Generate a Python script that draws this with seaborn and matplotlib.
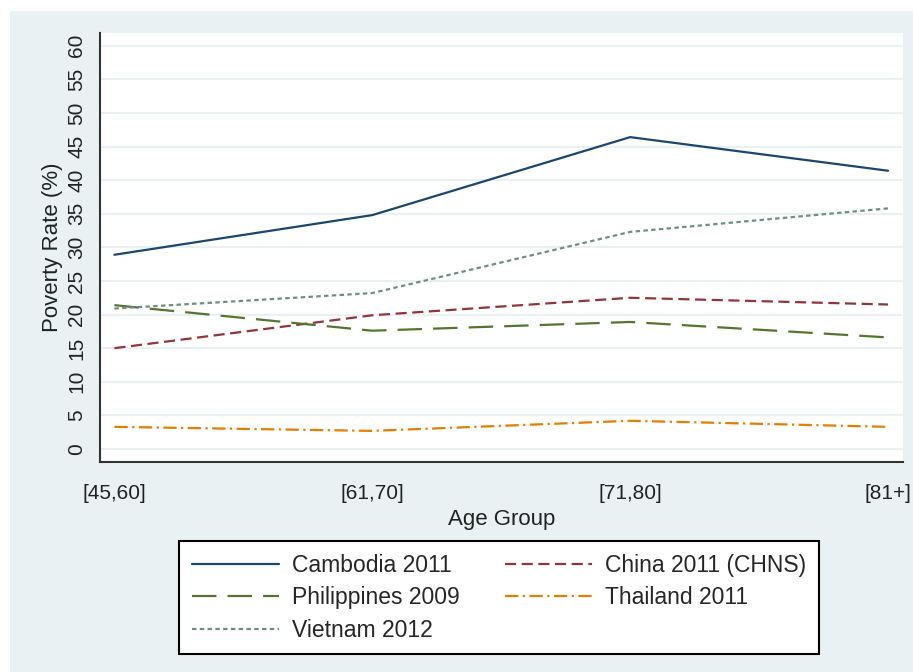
import pandas as pd
import numpy as np
import matplotlib.pyplot as plt
import matplotlib as mpl
import seaborn as sns

# values
age_groups = ['[45,60]', '[61,70]', '[71,80]', '[81+]']
cambodia = [28.9, 34.8, 46.4, 41.4]
china = [15.0, 19.9, 22.5, 21.5]
philippines = [21.4, 17.6, 18.9, 16.6]
thailand = [3.3, 2.7, 4.2, 3.3]
vietnam = [20.9, 23.2, 32.3, 35.8]

series = ['Cambodia 2011', 'China 2011 (CHNS)', 'Philippines 2009', 'Thailand 2011', 'Vietnam 2012']
values = [cambodia, china, philippines, thailand, vietnam]

df = pd.DataFrame({
    'Age Group': np.tile(np.arange(len(age_groups)), len(series)),
    'Poverty Rate (%)': np.concatenate(values),
    'Series': np.repeat(series, len(age_groups)),
})

colors = {'Cambodia 2011': '#1a476f', 'China 2011 (CHNS)': '#90353b',
          'Philippines 2009': '#55752f', 'Thailand 2011': '#e37e00',
          'Vietnam 2012': '#6e8e84'}
dashes = {'Cambodia 2011': '', 'China 2011 (CHNS)': (5, 2.5),
          'Philippines 2009': (11, 5), 'Thailand 2011': (6, 2, 1, 2),
          'Vietnam 2012': (2, 1.5)}

bg = '#eaf1f3'
sns.set_style('white')
plt.rcParams['font.family'] = ['Liberation Sans', 'DejaVu Sans']
mpl.rcParams['lines.linewidth'] = 1.5

fig = plt.figure(figsize=(9.13, 6.72), dpi=100, facecolor='white')
fig.patches.append(mpl.patches.Rectangle((10 / 913, 0), 1, 1 - 11 / 672, transform=fig.transFigure,
                                         facecolor=bg, edgecolor='none', zorder=-10))
ax = fig.add_axes([0.1095, 0.3125, 0.8795, 0.6385])
ax.set_facecolor('white')

sns.lineplot(data=df, x='Age Group', y='Poverty Rate (%)', hue='Series', style='Series',
             palette=colors, dashes=dashes, hue_order=series, style_order=series,
             linewidth=1.6, ax=ax, legend=True)

ax.set_xlim(-0.056, 3.058)
ax.set_ylim(-1.93, 61.9)
ax.set_xticks(range(len(age_groups)))
ax.set_xticklabels(age_groups, fontsize=15, color='#222222')
ax.set_yticks(range(0, 61, 5))
ax.set_yticklabels([str(v) for v in range(0, 61, 5)], fontsize=15, rotation=90,
                   va='center', color='#222222')
ax.yaxis.grid(True, color=bg, linewidth=1.5)
ax.set_axisbelow(True)
ax.tick_params(axis='both', direction='out', length=7, width=1.2, color='#333333')
ax.tick_params(axis='x', pad=9)
ax.tick_params(axis='y', pad=3)
for s in ['top', 'right']:
    ax.spines[s].set_visible(False)
for s in ['left', 'bottom']:
    ax.spines[s].set_color('#333333')
    ax.spines[s].set_linewidth(1.5)
ax.set_xlabel('Age Group', fontsize=16, labelpad=4, color='#222222')
ax.set_ylabel('Poverty Rate (%)', fontsize=16, labelpad=3, color='#222222')

handles, labels = ax.get_legend_handles_labels()
ax.get_legend().remove()
# row-major order like the reference
order = [0, 2, 4, 1, 3]
leg = fig.legend([handles[i] for i in order], [labels[i] for i in order],
                 loc='upper center', bbox_to_anchor=(0.5466, 0.195), borderaxespad=0,
                 ncol=2, fontsize=16.5, frameon=True, fancybox=False, handlelength=3.8,
                 handletextpad=0.57, columnspacing=2.0, labelspacing=0.42, borderpad=0.55)
leg.get_frame().set_edgecolor('black')
leg.get_frame().set_linewidth(1.5)
leg.get_frame().set_facecolor('white')
leg.get_frame().set_alpha(1)

fig.savefig('out.png', dpi=100, facecolor=fig.get_facecolor())
